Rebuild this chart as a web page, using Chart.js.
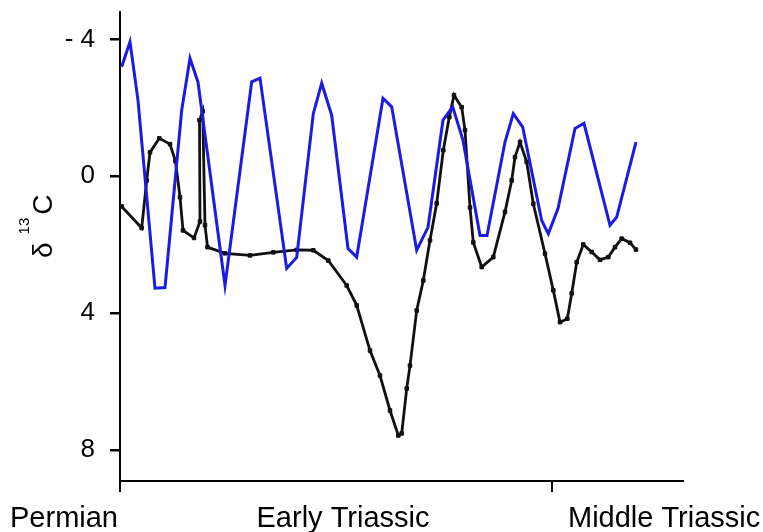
<!DOCTYPE html>
<html>
<head>
<meta charset="utf-8">
<script src="https://cdn.jsdelivr.net/npm/chart.js@4/dist/chart.umd.min.js"></script>
<style>
  html, body { margin: 0; padding: 0; background: #fff; }
</style>
</head>
<body>
<canvas id="myChart" width="763" height="532"></canvas>
<script>
// blue curve (no markers)
const blueX = [1.7, 10, 18, 35, 45, 61.7, 70, 78, 105, 131.7, 140, 166.7, 176.7, 193.3, 201.7, 211.7,
  228, 236.7, 263, 271.7, 296.7, 308, 323, 332.7, 343, 360, 367, 385, 393.3, 402.7, 421.7, 428.3,
  438, 455, 464, 490, 496.7, 516];
const blueY = [-3.2, -3.93, -2.22, 3.27, 3.25, -1.93, -3.45, -2.75, 3.19, -2.76, -2.87, 2.69, 2.37, -1.83, -2.72, -1.78,
  2.11, 2.36, -2.28, -2.03, 2.16, 1.49, -1.64, -2.03, -1.05, 1.73, 1.73, -1.0, -1.83, -1.44, 1.29, 1.68,
  0.94, -1.4, -1.55, 1.43, 1.19, -1.0];

// black curve (square markers)
const blackX = [1.7, 21.7, 26.7, 30, 39.3, 50, 55.5, 60, 63, 74, 80, 79.5, 82.7, 85, 87.5, 105, 130, 153.3,
  176.7, 193.3, 208.3, 226.7, 236.7, 250, 260, 270, 278.3, 281.7, 286.7, 290, 296.7, 303.3, 310, 316.7,
  323.3, 329.3, 334, 341.7, 345, 350, 353.3, 361.7, 373.3, 385, 391.7, 395, 400, 406.7, 413.3, 425,
  433.3, 440, 447.3, 451.7, 456.7, 463.3, 471.7, 480, 488.3, 495, 501.7, 510, 516];
const blackY = [0.88, 1.51, 0.12, -0.7, -1.11, -0.94, -0.44, 0.61, 1.58, 1.8, 1.32, -1.64, -1.9, 1.43, 2.07, 2.25, 2.31, 2.22,
  2.15, 2.16, 2.46, 3.19, 3.77, 5.09, 5.82, 6.84, 7.57, 7.51, 6.2, 5.53, 3.92, 3.04, 1.87, 0.79,
  -0.76, -1.73, -2.37, -2.02, -1.35, 0.91, 1.93, 2.65, 2.36, 1.04, 0.12, -0.56, -1.0, -0.42, 0.8, 2.26,
  3.33, 4.26, 4.16, 3.42, 2.51, 1.99, 2.21, 2.44, 2.36, 2.07, 1.82, 1.94, 2.14];

const yTicks = [-4, 0, 4, 8];
const xTicks = [0, 432];
const periodLabels = ['Permian', 'Early Triassic', 'Middle Triassic'];
const periodAt = [-2, 223, 448];
const periodAlign = ['right', 'center', 'left'];

const FONT = '"Liberation Sans", Arial, Helvetica, sans-serif';

const textPlugin = {
  id: 'textPlugin',
  afterDraw(chart) {
    const ctx = chart.ctx;
    const xs = chart.scales.x;
    const ys = chart.scales.y;
    const area = chart.chartArea;
    ctx.save();

    // y tick marks
    ctx.fillStyle = '#000';
    yTicks.forEach(v => {
      const py = Math.round(ys.getPixelForValue(v));
      ctx.fillRect(area.left - 10, py - 1, 10, 2.5);
    });

    ctx.textBaseline = 'alphabetic';
    ctx.font = '29px ' + FONT;
    periodLabels.forEach((t, i) => {
      ctx.textAlign = periodAlign[i];
      ctx.fillText(t, xs.getPixelForValue(periodAt[i]), area.bottom + 46);
    });

    // y title: delta 13C, rotated
    ctx.translate(area.left - 68, area.top + 246);
    ctx.rotate(-Math.PI / 2);
    ctx.textAlign = 'left';
    ctx.font = '28px ' + FONT;
    ctx.fillText('δ', 0, 0);
    let pos = ctx.measureText('δ').width + 8;
    ctx.font = '15px ' + FONT;
    ctx.fillText('13', pos, -23);
    pos += ctx.measureText('13').width + 3;
    ctx.font = '28px ' + FONT;
    ctx.fillText('C', pos, 0);
    ctx.restore();
  }
};

const data = {
  datasets: [{
    label: 'blue',
    data: blueX.map((x, i) => ({x: x, y: blueY[i]})),
    borderColor: '#1c1ce0',
    borderWidth: 3,
    pointRadius: 0,
    tension: 0
  },
  {
    label: 'black',
    data: blackX.map((x, i) => ({x: x, y: blackY[i]})),
    borderColor: '#111',
    backgroundColor: '#111',
    pointBackgroundColor: '#111',
    pointBorderColor: '#111',
    borderWidth: 2.8,
    pointStyle: 'rect',
    pointRadius: 2.5,
    pointBorderWidth: 1,
    tension: 0
  }]
};

const config = {
  type: 'line',
  data: data,
  options: {
    responsive: false,
    animation: false,
    layout: { padding: { top: 12, right: 80, bottom: 40, left: 0 } },
    plugins: {
      legend: { display: false },
      tooltip: { enabled: false }
    },
    scales: {
      x: {
        type: 'linear',
        min: 0,
        max: 563,
        afterBuildTicks: (s) => { s.ticks = xTicks.map(v => ({value: v})); },
        afterFit: (s) => { s.height = 11; s.paddingLeft = 0; s.paddingRight = 0; },
        ticks: { display: false },
        grid: { drawOnChartArea: false, drawTicks: true, tickLength: 11, tickColor: '#000', tickWidth: 2, lineWidth: 2 },
        border: { color: '#000', width: 2 }
      },
      y: {
        type: 'linear',
        min: -4.8,
        max: 8.9,
        reverse: true,
        afterBuildTicks: (s) => { s.ticks = yTicks.map(v => ({value: v})); },
        afterFit: (s) => { s.width = 120; s.paddingTop = 0; s.paddingBottom = 0; },
        ticks: {
          color: '#000',
          padding: 16,
          font: { family: FONT, size: 26 },
          callback: (v) => v < 0 ? '- ' + Math.abs(v) : String(v)
        },
        grid: { drawOnChartArea: false, drawTicks: true, tickLength: 9, tickColor: '#000', tickWidth: 2, lineWidth: 2 },
        border: { color: '#000', width: 2 }
      }
    }
  },
  plugins: [textPlugin]
};

let myChart = new Chart(document.getElementById('myChart'), config);
</script>
</body>
</html>
